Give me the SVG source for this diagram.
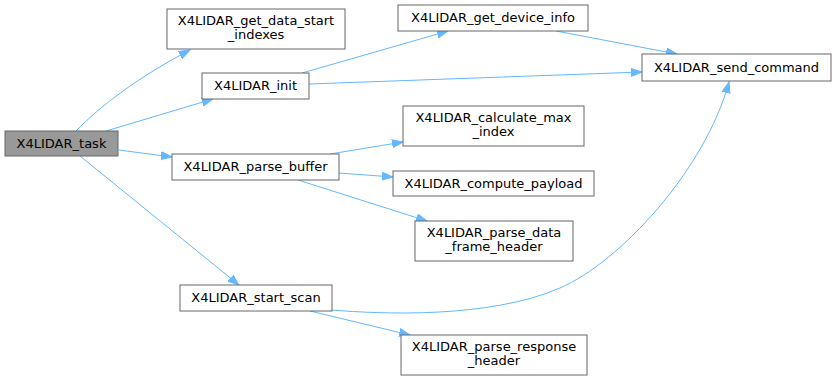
<svg xmlns="http://www.w3.org/2000/svg" width="836" height="381" viewBox="0 0 836 381">
  <style>
    .node rect { fill: #ffffff; stroke: #666666; stroke-width: 1; }
    .node.root rect { fill: #999999; }
    .node text { font-family: "DejaVu Sans", sans-serif; font-size: 13px; fill: #000000; text-anchor: middle; }
    .edge { fill: none; stroke: #63b8ff; stroke-width: 1; }
  </style>
  <defs>
    <marker id="arrow" markerUnits="userSpaceOnUse" markerWidth="12" markerHeight="10" refX="11" refY="4.5" orient="auto">
      <polygon points="0,0.5 11,4.5 0,8.5" fill="#63b8ff" stroke="#63b8ff" stroke-width="1"/>
    </marker>
  </defs>

  <rect width="836" height="381" fill="#ffffff"/>

  <g id="connectors">
    <path class="edge" marker-end="url(#arrow)" d="M76,131 C100,106 140,76 190,50"/>
    <path class="edge" marker-end="url(#arrow)" d="M106,131 L213,99"/>
    <path class="edge" marker-end="url(#arrow)" d="M119,150 L172,157"/>
    <path class="edge" marker-end="url(#arrow)" d="M80,156 L239,285"/>
    <path class="edge" marker-end="url(#arrow)" d="M302,73 L448,31"/>
    <path class="edge" marker-end="url(#arrow)" d="M309,84 L642,72"/>
    <path class="edge" marker-end="url(#arrow)" d="M556,31 L677,54"/>
    <path class="edge" marker-end="url(#arrow)" d="M330,154 L403,142"/>
    <path class="edge" marker-end="url(#arrow)" d="M339,173 L393,177"/>
    <path class="edge" marker-end="url(#arrow)" d="M298,180 L427,221"/>
    <path class="edge" marker-end="url(#arrow)" d="M332,310 C380,314 488,319 560,288 C620,262 705,170 729,82"/>
    <path class="edge" marker-end="url(#arrow)" d="M310,311 L410,335"/>
  </g>

  <g id="X4LIDAR_task" class="node root">
    <rect x="5" y="131" width="113" height="25"/>
    <text x="61.5" y="148">X4LIDAR_task</text>
  </g>
  <g id="X4LIDAR_get_data_start_indexes" class="node">
    <rect x="167" y="9" width="178" height="40"/>
    <text x="256" y="25">X4LIDAR_get_data_start</text>
    <text x="256" y="39">_indexes</text>
  </g>
  <g id="X4LIDAR_init" class="node">
    <rect x="202" y="73" width="107" height="26"/>
    <text x="255.5" y="90">X4LIDAR_init</text>
  </g>
  <g id="X4LIDAR_parse_buffer" class="node">
    <rect x="172" y="154" width="167" height="26"/>
    <text x="255.5" y="171">X4LIDAR_parse_buffer</text>
  </g>
  <g id="X4LIDAR_start_scan" class="node">
    <rect x="180" y="285" width="152" height="26"/>
    <text x="256" y="302">X4LIDAR_start_scan</text>
  </g>
  <g id="X4LIDAR_get_device_info" class="node">
    <rect x="398" y="5" width="190" height="26"/>
    <text x="493" y="22">X4LIDAR_get_device_info</text>
  </g>
  <g id="X4LIDAR_send_command" class="node">
    <rect x="642" y="54" width="189" height="27"/>
    <text x="736.5" y="72">X4LIDAR_send_command</text>
  </g>
  <g id="X4LIDAR_calculate_max_index" class="node">
    <rect x="403" y="106" width="181" height="40"/>
    <text x="493.5" y="122">X4LIDAR_calculate_max</text>
    <text x="493.5" y="136">_index</text>
  </g>
  <g id="X4LIDAR_compute_payload" class="node">
    <rect x="393" y="171" width="201" height="25"/>
    <text x="493.5" y="188">X4LIDAR_compute_payload</text>
  </g>
  <g id="X4LIDAR_parse_data_frame_header" class="node">
    <rect x="415" y="221" width="158" height="40"/>
    <text x="494" y="237">X4LIDAR_parse_data</text>
    <text x="494" y="251">_frame_header</text>
  </g>
  <g id="X4LIDAR_parse_response_header" class="node">
    <rect x="401" y="335" width="186" height="40"/>
    <text x="494" y="351">X4LIDAR_parse_response</text>
    <text x="494" y="365">_header</text>
  </g>
</svg>
